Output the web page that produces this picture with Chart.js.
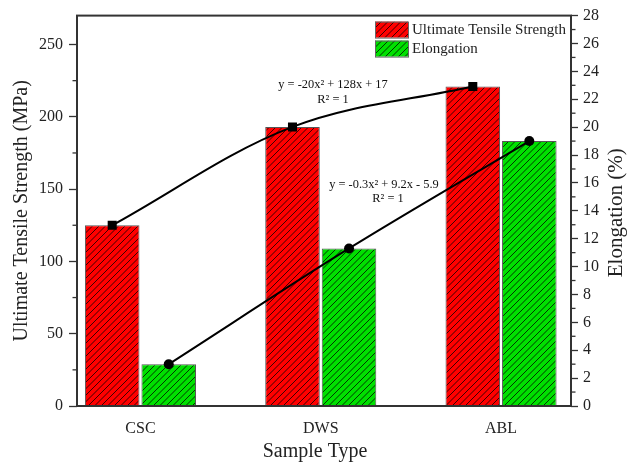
<!DOCTYPE html>
<html><head><meta charset="utf-8">
<script src="https://cdn.jsdelivr.net/npm/chart.js@4"></script>
<style>html,body{margin:0;padding:0;background:#fff}canvas{display:block}</style>
</head><body>
<canvas id="c" width="634" height="463"></canvas>
<script>
// ---- data ----
const categories = ['CSC', 'DWS', 'ABL'];
const utsValues = [125, 193, 221];
const elongationValues = [3.0, 11.3, 19.0];
const seriesNames = ['Ultimate Tensile Strength', 'Elongation'];
const utsFitText = ['y = -20x\u00b2 + 128x + 17', 'R\u00b2 = 1'];
const elongationFitText = ['y = -0.3x\u00b2 + 9.2x - 5.9', 'R\u00b2 = 1'];
const xTitle = 'Sample Type';
const yTitle = 'Ultimate Tensile Strength (MPa)';
const y1Title = 'Elongation (%)';

// ---- style ----
const FONT = "'Liberation Serif', 'Times New Roman', serif";
const TXT = '#222';
const AXC = '#333';
const CAT_PCT = 0.627;
const BAR_PCT = 0.965;
const barShift = CAT_PCT / 4;
const X_MIN = 0.648, X_MAX = 3.388;

function hatch(color) {
  const s = 13;
  const cv = document.createElement('canvas');
  cv.width = s; cv.height = s;
  const g = cv.getContext('2d');
  g.fillStyle = color; g.fillRect(0, 0, s, s);
  g.strokeStyle = 'rgba(0,0,0,0.85)';
  g.lineWidth = 0.9;
  for (const c of [0, 6.5, 13, 19.5, 26]) {
    g.beginPath(); g.moveTo(c + 1, -1); g.lineTo(c - 14, 14); g.stroke();
  }
  return g.createPattern(cv, 'repeat');
}
const redFill = hatch('#ff0000');
const greenFill = hatch('#00e000');

const decor = {
  id: 'decor',
  afterDatasetsDraw(chart) {
    const { ctx, chartArea: a, scales } = chart;
    ctx.save();
    ctx.strokeStyle = AXC;
    ctx.lineWidth = 2;
    ctx.strokeRect(a.left, a.top, a.right - a.left, a.bottom - a.top);
    ctx.lineWidth = 1.3;
    for (const [id, dir, edge] of [['y', -1, a.left], ['y1', 1, a.right]]) {
      const s = scales[id];
      const vals = s.ticks.map(t => t.value);
      const step = vals[1] - vals[0];
      for (const v of vals) {
        const m = v + step / 2;
        if (m > s.max) continue;
        const py = s.getPixelForValue(m);
        ctx.beginPath(); ctx.moveTo(edge, py); ctx.lineTo(edge + dir * 4.5, py); ctx.stroke();
      }
    }
    ctx.restore();
  },
  afterDraw(chart) {
    const { ctx, chartArea: a } = chart;
    ctx.save();
    ctx.fillStyle = TXT;
    ctx.font = '20px ' + FONT;
    ctx.textAlign = 'center';
    ctx.textBaseline = 'alphabetic';
    ctx.fillText(xTitle, 315, 457);
    ctx.save();
    ctx.translate(27, (a.top + a.bottom) / 2);
    ctx.rotate(-Math.PI / 2);
    ctx.fillText(yTitle, 0, 0);
    ctx.restore();
    ctx.font = '21px ' + FONT;
    ctx.save();
    ctx.translate(622, (a.top + a.bottom) / 2 + 2);
    ctx.rotate(-Math.PI / 2);
    ctx.fillText(y1Title, 0, 0);
    ctx.restore();
    ctx.font = '12.4px ' + FONT;
    ctx.textBaseline = 'middle';
    ctx.fillStyle = '#111';
    ctx.fillText(utsFitText[0], 333, 85);
    ctx.fillText(utsFitText[1], 333, 100);
    ctx.fillText(elongationFitText[0], 384, 185);
    ctx.fillText(elongationFitText[1], 388, 199);
    const bars = chart.data.datasets.filter(d => d.type === 'bar');
    ctx.font = '15px ' + FONT;
    ctx.textAlign = 'left';
    bars.forEach((d, i) => {
      const bx = a.right - 196, by = a.top + 6 + i * 19;
      ctx.fillStyle = d.backgroundColor;
      ctx.fillRect(bx, by, 33, 16);
      ctx.strokeStyle = '#666'; ctx.lineWidth = 1;
      ctx.strokeRect(bx + 0.5, by + 0.5, 33, 16);
      ctx.fillStyle = TXT;
      ctx.fillText(d.label, bx + 37, by + 8.5);
    });
    ctx.restore();
  }
};

const tickFont = { family: FONT, size: 16 };

new Chart(document.getElementById('c').getContext('2d'), {
  type: 'bar',
  data: {
    datasets: [
      {
        type: 'line', label: 'UTS fit', yAxisID: 'y', order: 0,
        data: categories.map((c, i) => ({ x: i + 1 - barShift, y: utsValues[i] })),
        borderColor: '#000', borderWidth: 2, tension: 0.35,
        pointStyle: 'rect', pointRadius: 6.4, pointBackgroundColor: '#000', pointBorderWidth: 0
      },
      {
        type: 'line', label: 'Elongation fit', yAxisID: 'y1', order: 0,
        data: categories.map((c, i) => ({ x: i + 1 + barShift, y: elongationValues[i] })),
        borderColor: '#000', borderWidth: 2, tension: 0.35,
        pointStyle: 'circle', pointRadius: 5, pointBackgroundColor: '#000', pointBorderWidth: 0
      },
      {
        type: 'bar', label: seriesNames[0], yAxisID: 'y', order: 1,
        data: categories.map((c, i) => ({ x: i + 1, y: utsValues[i] })),
        backgroundColor: redFill, borderColor: '#555', borderWidth: 1,
        categoryPercentage: CAT_PCT, barPercentage: BAR_PCT
      },
      {
        type: 'bar', label: seriesNames[1], yAxisID: 'y1', order: 1,
        data: categories.map((c, i) => ({ x: i + 1, y: elongationValues[i] })),
        backgroundColor: greenFill, borderColor: '#555', borderWidth: 1,
        categoryPercentage: CAT_PCT, barPercentage: BAR_PCT
      }
    ]
  },
  options: {
    responsive: false,
    animation: false,
    devicePixelRatio: 1,
    layout: { padding: { top: 15, left: 0, right: 0, bottom: 0 } },
    plugins: { legend: { display: false }, tooltip: { enabled: false } },
    scales: {
      x: {
        type: 'linear', min: X_MIN, max: X_MAX, offset: false, bounds: 'data', grace: 0,
        afterDataLimits: s => { s.min = X_MIN; s.max = X_MAX; },
        afterBuildTicks: s => { s.ticks = categories.map((c, i) => ({ value: i + 1 })); s.min = X_MIN; s.max = X_MAX; },
        ticks: { callback: (v, i) => categories[i], font: tickFont, color: TXT, padding: 5, autoSkip: false, maxRotation: 0 },
        grid: { display: false, offset: false },
        border: { display: false },
        afterFit: s => { s.height = 57; }
      },
      y: {
        position: 'left', min: 0, max: 270,
        ticks: { stepSize: 50, includeBounds: false, font: tickFont, color: TXT, padding: 6 },
        grid: { drawOnChartArea: false, drawTicks: true, tickLength: 8, tickColor: AXC, tickWidth: 1.3 },
        border: { display: false },
        afterFit: s => { s.width = 77; }
      },
      y1: {
        position: 'right', min: 0, max: 28,
        ticks: { stepSize: 2, includeBounds: false, font: tickFont, color: TXT, padding: 5 },
        grid: { drawOnChartArea: false, drawTicks: true, tickLength: 7, tickColor: AXC, tickWidth: 1.3 },
        border: { display: false },
        afterFit: s => { s.width = 63; }
      }
    }
  },
  plugins: [decor]
});
</script>
</body></html>
